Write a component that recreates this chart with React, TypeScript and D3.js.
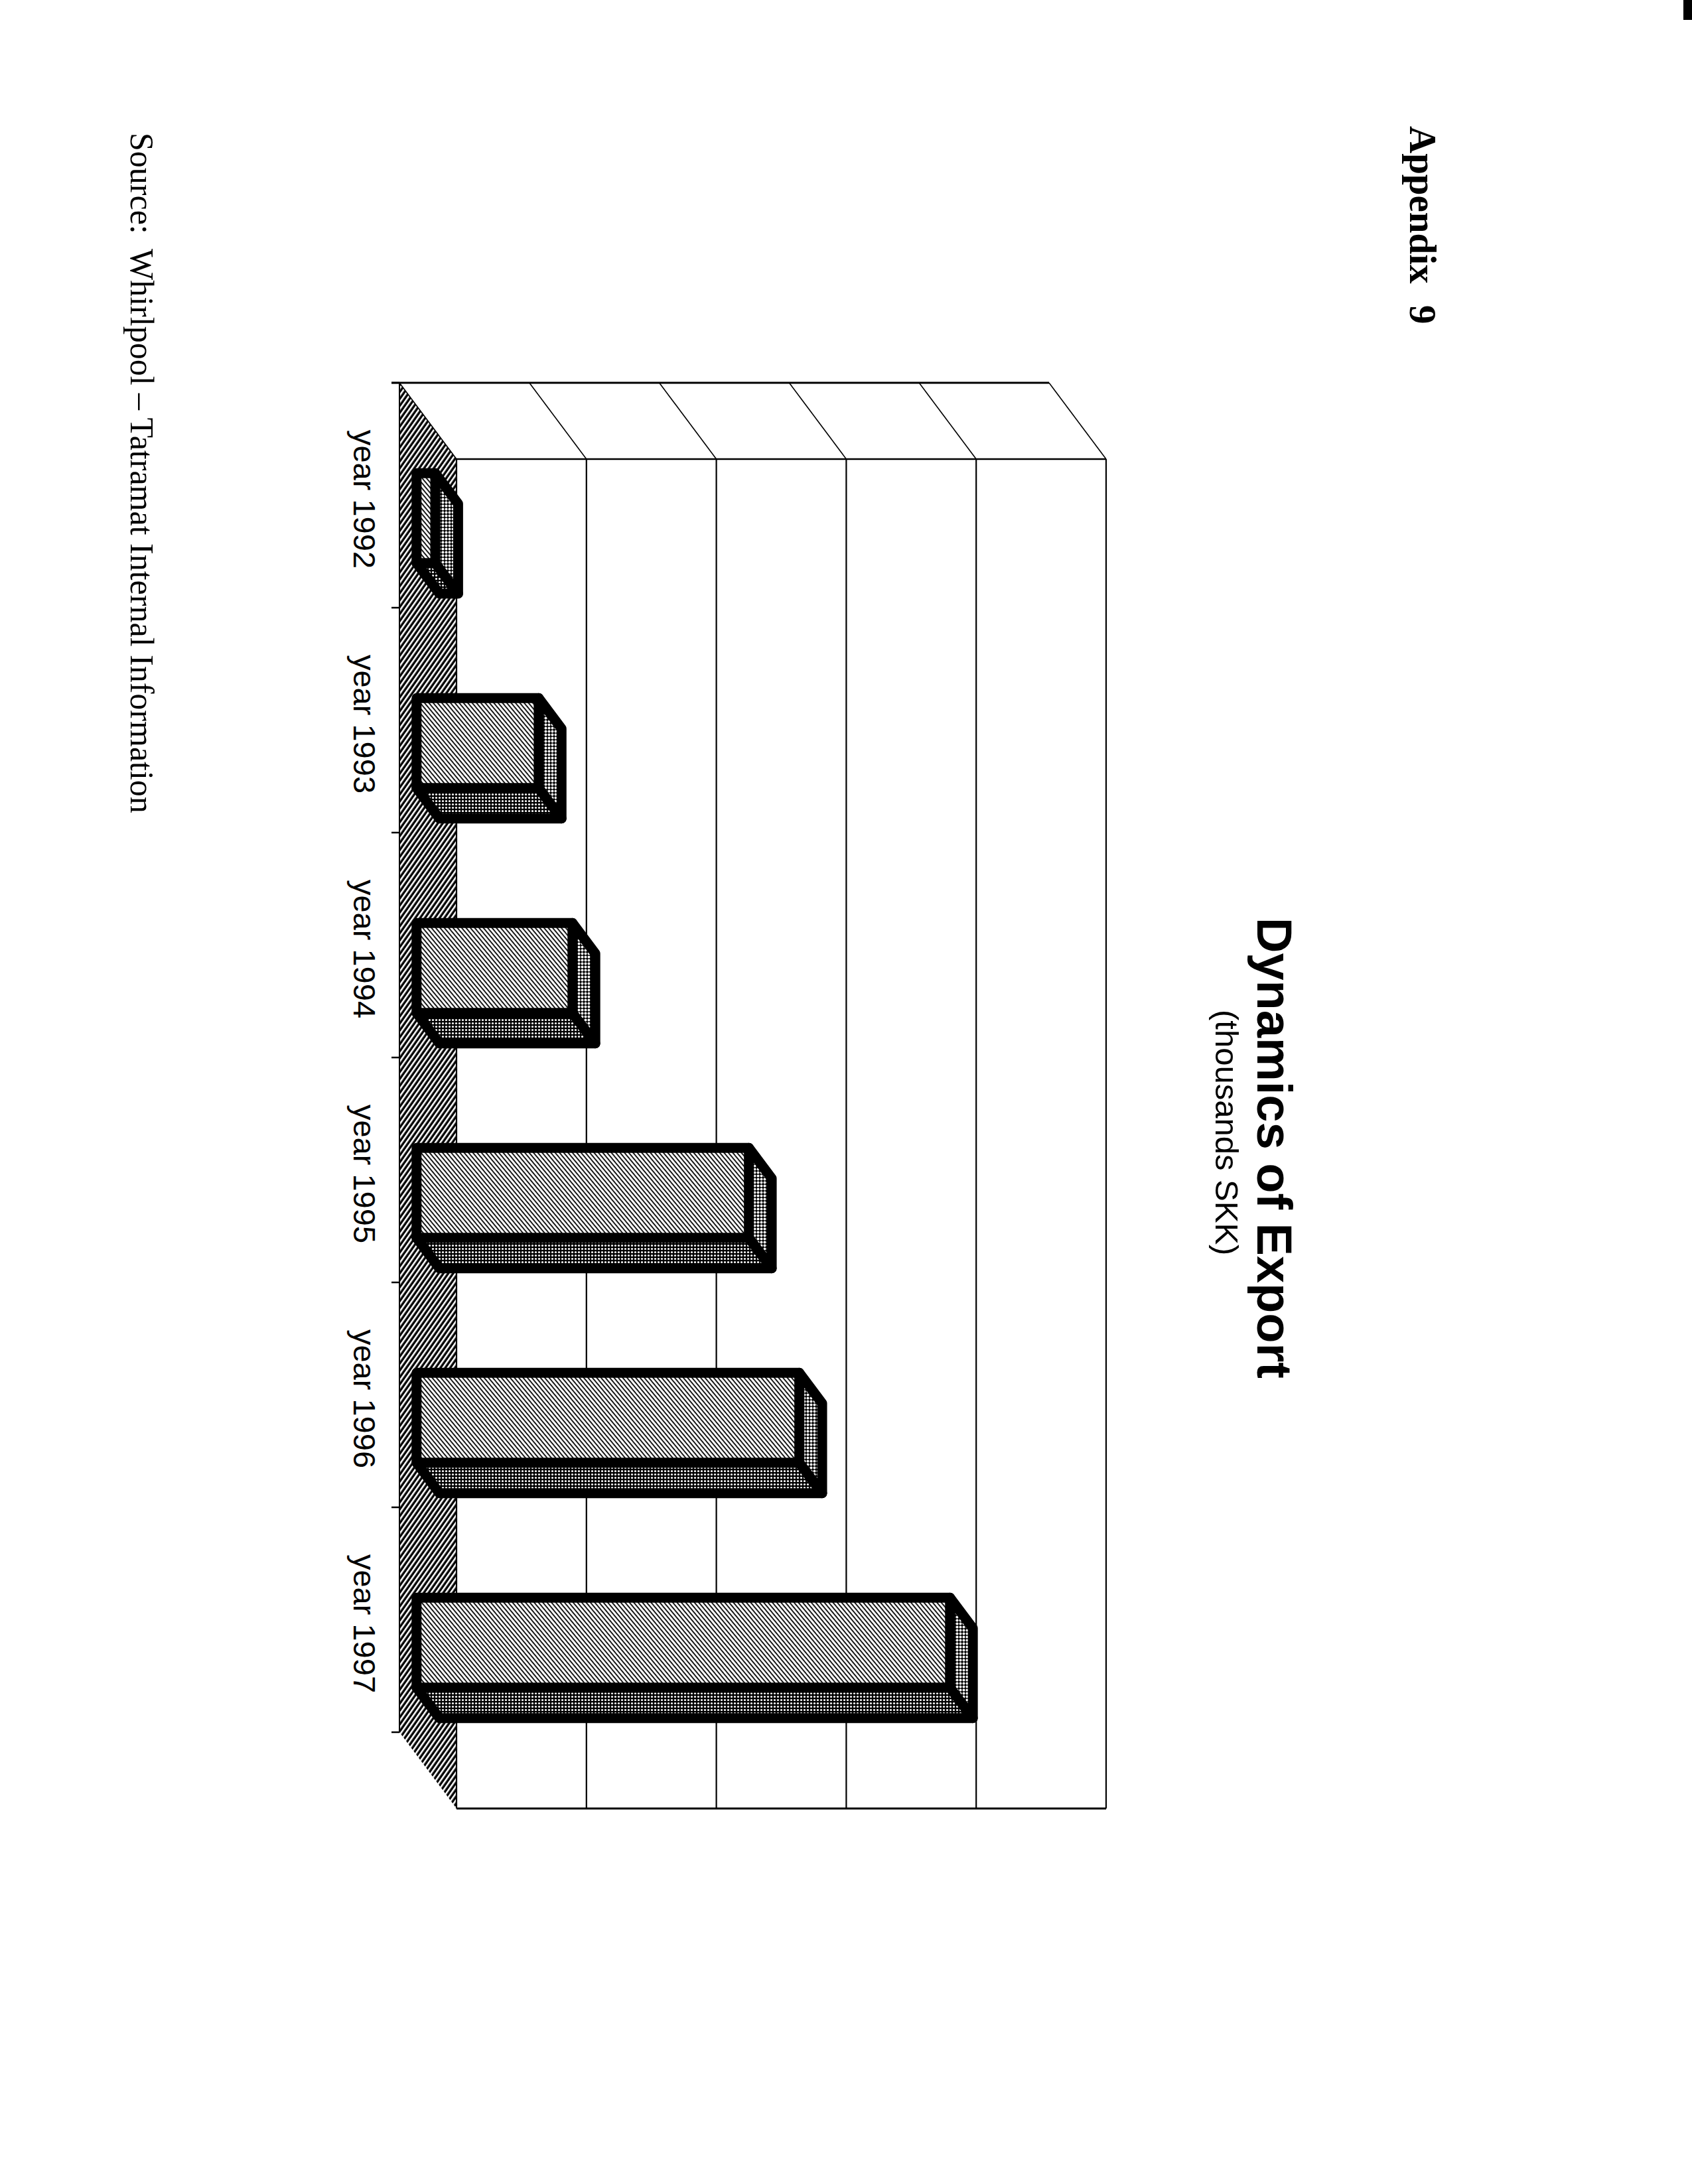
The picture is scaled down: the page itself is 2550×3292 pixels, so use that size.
import React from "react";
import * as d3 from "d3";

// ---- data ----
const years = ["year 1992", "year 1993", "year 1994", "year 1995", "year 1996", "year 1997"];
const exportValues = [72000, 470000, 600000, 1279000, 1473000, 2053000];
const valueTicks = [0, 500000, 1000000, 1500000, 2000000, 2500000];
const titleText = "Dynamics of Export";
const subtitleText = "(thousands SKK)";
const appendixWord = "Appendix";
const appendixNumber = "9";
const sourceLabel = "Source:";
const sourceText = "Whirlpool \u2013 Tatramat Internal Information";

// ---- layout ----
const W = 2550;
const H = 3292;
const X0 = 602; // front edge of floor (value 0)
const Y0 = 577; // front-top edge of category range
const plotW = 979;
const plotH = 2034;
const DX = 86; // depth offset (front -> back)
const DY = 115;
const Z0 = 0.3;
const Z1 = 0.7;

const sans = "'Liberation Sans', Arial, Helvetica, sans-serif";
const serif = "'Liberation Serif', 'Times New Roman', Times, serif";

export default function App() {
  const xs = d3.scaleLinear().domain([0, valueTicks[valueTicks.length - 1]]).range([0, plotW]);
  const yBand = d3
    .scaleBand<string>()
    .domain(years)
    .range([Y0, Y0 + plotH])
    .paddingInner(0.6)
    .paddingOuter(0.3);
  const step = yBand.step();
  const bw = yBand.bandwidth();
  const boundaries = d3.range(years.length + 1).map((i) => Y0 + i * step);

  const P = (v: number, y: number, z: number): [number, number] => [X0 + xs(v) + z * DX, y + z * DY];
  const poly = (pts: [number, number][]) => pts.map((p) => p.join(",")).join(" ");

  const maxV = valueTicks[valueTicks.length - 1];
  const yTop = Y0;
  const yBot = Y0 + plotH;

  return (
    <svg
      width={W}
      height={H}
      viewBox={`0 0 ${W} ${H}`}
      style={{ position: "absolute", left: 0, top: 0, display: "block", background: "#fff" }}
    >
      <defs>
        <pattern id="pFloor" width="6" height="6" patternUnits="userSpaceOnUse" patternTransform="rotate(-55)">
          <rect width="6" height="6" fill="#000" />
          <rect y="0" width="6" height="2.6" fill="#fff" />
        </pattern>
        <pattern id="pFront" width="5" height="5" patternUnits="userSpaceOnUse" patternTransform="rotate(50)">
          <rect width="5" height="5" fill="#fff" />
          <rect y="0" width="5" height="1.8" fill="#000" />
        </pattern>
        <pattern id="pSide" width="5" height="5" patternUnits="userSpaceOnUse">
          <rect width="5" height="5" fill="#000" />
          <circle cx="2.5" cy="2.5" r="2.0" fill="#fff" />
        </pattern>
        <pattern id="pBottom" width="5" height="5" patternUnits="userSpaceOnUse">
          <rect width="5" height="5" fill="#000" />
          <circle cx="2.5" cy="2.5" r="1.6" fill="#fff" />
        </pattern>
      </defs>

      <rect width={W} height={H} fill="#fff" />

      {/* floor */}
      <polygon
        points={poly([P(0, yTop, 0), P(0, yTop, 1), P(0, yBot, 1), P(0, yBot, 0)])}
        fill="url(#pFloor)"
      />

      {/* back wall gridlines */}
      {valueTicks.map((t) => (
        <line
          key={"g" + t}
          x1={P(t, yTop, 1)[0]}
          y1={P(t, yTop, 1)[1]}
          x2={P(t, yBot, 1)[0]}
          y2={P(t, yBot, 1)[1]}
          stroke="#000"
          strokeWidth={2.2}
        />
      ))}
      {/* side wall diagonals */}
      {valueTicks.map((t) => (
        <line
          key={"d" + t}
          x1={P(t, yTop, 0)[0]}
          y1={P(t, yTop, 0)[1]}
          x2={P(t, yTop, 1)[0]}
          y2={P(t, yTop, 1)[1]}
          stroke="#000"
          strokeWidth={1.6}
        />
      ))}
      {/* wall outlines */}
      <line x1={P(0, yTop, 0)[0] - 12} y1={yTop} x2={P(maxV, yTop, 0)[0]} y2={yTop} stroke="#000" strokeWidth={3} />
      <line
        x1={P(0, yTop, 1)[0]}
        y1={P(0, yTop, 1)[1]}
        x2={P(maxV, yTop, 1)[0]}
        y2={P(maxV, yTop, 1)[1]}
        stroke="#000"
        strokeWidth={2.5}
      />
      <line
        x1={P(0, yBot, 1)[0]}
        y1={P(0, yBot, 1)[1]}
        x2={P(maxV, yBot, 1)[0]}
        y2={P(maxV, yBot, 1)[1]}
        stroke="#000"
        strokeWidth={3}
      />

      {/* category axis + ticks */}
      <line x1={X0} y1={yTop} x2={X0} y2={yBot} stroke="#000" strokeWidth={2} />
      {boundaries.map((b, i) => (
        <line key={"t" + i} x1={X0 - 12} y1={b} x2={X0} y2={b} stroke="#000" strokeWidth={2.5} />
      ))}

      {/* bars */}
      {years.map((yr, i) => {
        const v = exportValues[i];
        const b0 = yBand(yr) as number;
        const b1 = b0 + bw;
        const front = [P(0, b0, Z0), P(v, b0, Z0), P(v, b1, Z0), P(0, b1, Z0)];
        const side = [P(v, b0, Z0), P(v, b0, Z1), P(v, b1, Z1), P(v, b1, Z0)];
        const bottom = [P(0, b1, Z0), P(v, b1, Z0), P(v, b1, Z1), P(0, b1, Z1)];
        const common = { stroke: "#000", strokeWidth: 15, strokeLinejoin: "round" as const };
        return (
          <g key={yr}>
            <polygon points={poly(bottom)} fill="url(#pBottom)" {...common} />
            <polygon points={poly(side)} fill="url(#pSide)" {...common} />
            <polygon points={poly(front)} fill="url(#pFront)" {...common} />
          </g>
        );
      })}

      {/* category labels */}
      {years.map((yr) => {
        const cy = (yBand(yr) as number) + bw / 2 + 6;
        return (
          <text
            key={"l" + yr}
            transform={`translate(533,${cy}) rotate(90)`}
            textAnchor="middle"
            fontFamily={sans}
            fontSize={47}
            fill="#000"
          >
            {yr}
          </text>
        );
      })}

      {/* title */}
      <text transform="translate(1895,1383) rotate(90)" fontFamily={sans} fontWeight="bold" fontSize={74} fill="#000">
        {titleText}
      </text>
      <text transform="translate(1832,1522) rotate(90)" fontFamily={sans} fontSize={49} fill="#000">
        {subtitleText}
      </text>

      {/* appendix */}
      <text transform="translate(2125,190) rotate(90)" fontFamily={serif} fontWeight="bold" fontSize={57} fill="#000">
        {appendixWord}
      </text>
      <text transform="translate(2125,460) rotate(90)" fontFamily={serif} fontWeight="bold" fontSize={57} fill="#000">
        {appendixNumber}
      </text>

      {/* source */}
      <text transform="translate(197,200) rotate(90)" fontFamily={serif} fontSize={50} fill="#000">
        {sourceLabel}
      </text>
      <text transform="translate(197,375) rotate(90)" fontFamily={serif} fontSize={50} fill="#000">
        {sourceText}
      </text>

      {/* scan edge mark */}
      <rect x={2537} y={0} width={13} height={30} fill="#000" />
    </svg>
  );
}
